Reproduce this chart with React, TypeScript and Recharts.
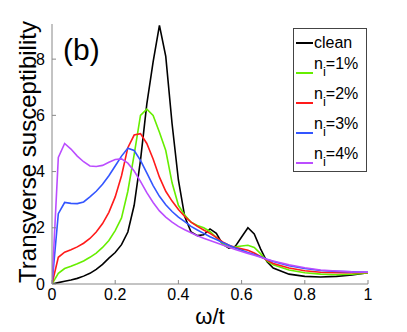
import { LineChart, Line, XAxis, YAxis, ReferenceArea } from 'recharts'

const omega = [
  0, 0.02, 0.04, 0.06, 0.08, 0.1, 0.12, 0.14, 0.16, 0.18, 0.2, 0.22, 0.24, 0.26, 0.28, 0.3, 0.32, 0.34,
  0.36, 0.38, 0.4, 0.42, 0.44, 0.46, 0.48, 0.5, 0.52, 0.54, 0.56, 0.58, 0.6, 0.62, 0.64, 0.66, 0.68, 0.7,
  0.75, 0.8, 0.85, 0.9, 0.95, 1,
]

const clean = [
  0, 0.05, 0.1, 0.14, 0.2, 0.28, 0.38, 0.52, 0.7, 0.92, 1.12, 1.4, 1.85, 2.8, 4.4, 6.4, 7.9, 9.2,
  8.1, 5.7, 3.7, 2.4, 1.85, 1.72, 1.75, 1.96, 1.8, 1.42, 1.28, 1.34, 1.67, 2.0, 1.78, 1.25, 0.8, 0.57,
  0.35, 0.27, 0.25, 0.27, 0.32, 0.4,
]

const ni1 = [
  0, 0.38, 0.55, 0.63, 0.72, 0.82, 0.95, 1.1, 1.3, 1.55, 1.9, 2.35, 3.3, 4.6, 6.0, 6.22, 6.0, 5.4,
  4.75, 3.6, 2.8, 2.45, 2.2, 2.08, 2.0, 1.87, 1.65, 1.43, 1.31, 1.32, 1.35, 1.38, 1.3, 1.08, 0.82, 0.68,
  0.5, 0.4, 0.35, 0.33, 0.35, 0.39,
]

const ni2 = [
  0, 0.95, 1.13, 1.22, 1.32, 1.45, 1.62, 1.85, 2.15, 2.55, 3.1, 3.85, 4.85, 5.3, 5.35, 5.0, 4.45, 3.8,
  3.3, 2.95, 2.65, 2.4, 2.2, 2.05, 1.92, 1.8, 1.66, 1.5, 1.38, 1.3, 1.25, 1.2, 1.1, 0.98, 0.85, 0.73,
  0.57, 0.47, 0.42, 0.4, 0.4, 0.41,
]

const ni3 = [
  0, 2.5, 2.9, 2.87, 2.86, 2.92, 3.1, 3.3, 3.55, 3.85, 4.2, 4.55, 4.83, 4.75, 4.4, 3.95, 3.5, 3.12,
  2.82, 2.58, 2.38, 2.22, 2.05, 1.92, 1.8, 1.68, 1.58, 1.48, 1.38, 1.28, 1.2, 1.12, 1.05, 0.97, 0.88, 0.8,
  0.65, 0.55, 0.48, 0.45, 0.43, 0.42,
]

const ni4 = [
  0, 4.5, 5.0, 4.8, 4.55, 4.35, 4.2, 4.18, 4.22, 4.33, 4.43, 4.45, 4.3, 4.02, 3.65, 3.25, 2.9, 2.6,
  2.38, 2.2, 2.05, 1.93, 1.82, 1.72, 1.63, 1.55, 1.47, 1.39, 1.31, 1.23, 1.16, 1.09, 1.02, 0.95, 0.88, 0.82,
  0.68, 0.58, 0.5, 0.46, 0.43, 0.42,
]

const xTicks = [0, 0.2, 0.4, 0.6, 0.8, 1]
const yTicks = [0, 2, 4, 6, 8]

const series = [
  { key: 'clean', values: clean, color: '#000000', label: 'clean', pct: '' },
  { key: 'ni1', values: ni1, color: '#66ee00', label: 'n', pct: '=1%' },
  { key: 'ni2', values: ni2, color: '#ff1a1a', label: 'n', pct: '=2%' },
  { key: 'ni3', values: ni3, color: '#3355ff', label: 'n', pct: '=3%' },
  { key: 'ni4', values: ni4, color: '#bb4dff', label: 'n', pct: '=4%' },
]

const data = omega.map((w, i) => {
  const row: Record<string, number> = { w }
  series.forEach((s) => {
    row[s.key] = s.values[i]
  })
  return row
})

const font = 'Liberation Sans, Arial, sans-serif'
const frame = '#888888'

function LegendBox() {
  return (
    <div
      style={{
        position: 'absolute',
        left: 293,
        top: 28,
        width: 74,
        height: 144,
        border: '1px solid #444',
        background: '#fff',
        fontFamily: font,
        fontSize: 16,
        color: '#000',
        boxSizing: 'border-box',
      }}
    >
      {series.map((s, i) => {
        const top = i === 0 ? 3 : 27 + (i - 1) * 30
        return (
          <div key={s.key} style={{ position: 'absolute', left: 2, top, height: 22, display: 'flex', alignItems: 'center', whiteSpace: 'nowrap' }}>
            <span
              style={{
                display: 'inline-block',
                width: 17,
                height: 0,
                borderTop: `2px solid ${s.color}`,
                marginRight: 1,
                marginTop: i === 0 ? 0 : 12,
              }}
            />
            {i === 0 ? (
              <span>{s.label}</span>
            ) : (
              <span>
                {s.label}
                <sub style={{ fontSize: 13, verticalAlign: -7 }}>i</sub>
                {s.pct}
              </span>
            )}
          </div>
        )
      })}
    </div>
  )
}

export default function App() {
  return (
    <div style={{ position: 'absolute', left: 0, top: 0, width: 407, height: 332, background: '#fff' }}>
      <LineChart width={407} height={332} data={data} margin={{ top: 24, right: 39, left: 0, bottom: 0 }}>
        <XAxis
          dataKey="w"
          type="number"
          domain={[0, 1]}
          ticks={xTicks}
          allowDataOverflow
          height={48}
          stroke={frame}
          tickSize={-4}
          tickMargin={9}
          tickFormatter={(v) => String(v)}
          tick={{ fontSize: 16, fill: '#000', fontFamily: font }}
          label={{
            content: ({ viewBox }: any) => (
              <text
                x={viewBox.x + viewBox.width / 2}
                y={viewBox.y + 32}
                textAnchor="middle"
                dominantBaseline="central"
                fontSize={22}
                fontFamily={font}
                fill="#000"
              >
                ω/t
              </text>
            ),
          }}
        />
        <XAxis xAxisId="top" orientation="top" dataKey="w" type="number" domain={[0, 1]} ticks={xTicks} height={0} stroke={frame} tickSize={-4} tick={false} />
        <YAxis
          type="number"
          domain={[0, 9.25]}
          ticks={yTicks}
          allowDataOverflow
          width={52}
          stroke={frame}
          tickSize={-4}
          tickMargin={11}
          tick={{ fontSize: 16, fill: '#000', fontFamily: font }}
          label={{
            content: ({ viewBox }: any) => {
              const cx = viewBox.x + 27
              const cy = viewBox.y + viewBox.height / 2 - 2
              return (
                <text
                  x={cx}
                  y={cy}
                  transform={`rotate(-90 ${cx} ${cy})`}
                  textAnchor="middle"
                  dominantBaseline="central"
                  fontSize={24}
                  fontFamily={font}
                  fill="#000"
                >
                  Transverse susceptibility
                </text>
              )
            },
          }}
        />
        <YAxis yAxisId="right" orientation="right" type="number" domain={[0, 9.25]} ticks={yTicks} width={0} stroke={frame} tickSize={-4} tick={false} />
        {series.map((s) => (
          <Line
            key={s.key}
            dataKey={s.key}
            type="linear"
            stroke={s.color}
            strokeWidth={1.6}
            dot={false}
            isAnimationActive={false}
          />
        ))}
        <ReferenceArea
          x1={0}
          x2={0.14}
          y1={7.5}
          y2={9.2}
          fill="none"
          stroke="none"
          label={{ value: '(b)', position: 'insideLeft', offset: 11, fontSize: 30, fill: '#000', fontFamily: font }}
        />
      </LineChart>
      <LegendBox />
    </div>
  )
}
